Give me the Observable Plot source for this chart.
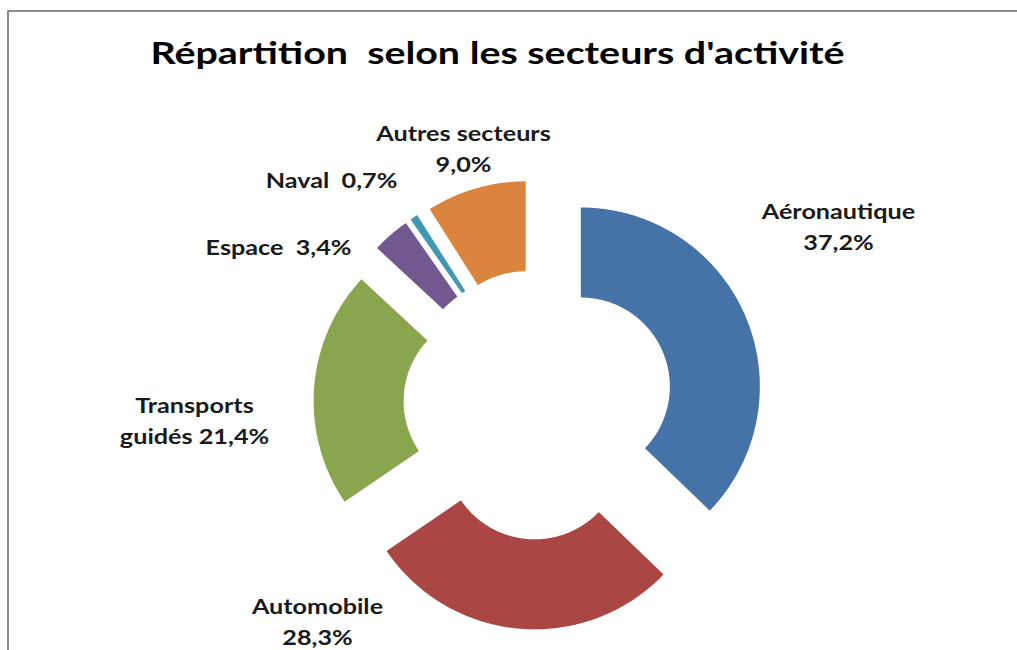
<!DOCTYPE html>
<html>
<head>
<meta charset="utf-8">
<script src="https://cdn.jsdelivr.net/npm/d3@7"></script>
<script src="https://cdn.jsdelivr.net/npm/@observablehq/plot@0.6"></script>
<style>
  html, body { margin: 0; padding: 0; background: #fff; }
  #chart svg { display: block; }
</style>
</head>
<body>
<div id="chart"></div>
<script>
// ---- data ----
const sectors = ["Aéronautique", "Automobile", "Transports guidés", "Espace", "Naval", "Autres secteurs"];
const shares = [37.2, 28.3, 21.4, 3.4, 0.7, 9.0];
const labelLines = [
  ["Aéronautique", "37,2%"],
  ["Automobile", "28,3%"],
  ["Transports", "guidés 21,4%"],
  ["Espace  3,4%"],
  ["Naval  0,7%"],
  ["Autres secteurs", "9,0%"]
];
const colors = ["#4572A7", "#AA4643", "#89A54E", "#71588F", "#4198AF", "#DB843D"];
const titleText = "Répartition  selon les secteurs d'activité";

// ---- layout ----
const W = 1017, H = 650;
const CX = 538, CY = 404, R_OUT = 179, R_IN = 89, EXPLODE = 46;
const labelAnchor = [[838, 212], [317, 607], [194, 406], [278, 248], [331, 181], [463, 134]];
const LINE_H = 31;
const LABEL_STRETCH = 1.2, TITLE_STRETCH = 1.27;

// ---- build slice polygons from the values ----
const total = d3.sum(shares);
const polys = [];
let acc = 0;
shares.forEach((v, i) => {
  const a0 = acc / total * 2 * Math.PI;
  acc += v;
  const a1 = acc / total * 2 * Math.PI;
  const mid = (a0 + a1) / 2;
  const ox = CX + EXPLODE * Math.sin(mid);
  const oy = CY - EXPLODE * Math.cos(mid);
  const n = Math.max(4, Math.ceil((a1 - a0) / (Math.PI / 360)));
  for (let k = 0; k <= n; k++) {
    const a = a0 + (a1 - a0) * k / n;
    polys.push({key: sectors[i], x: ox + R_OUT * Math.sin(a), y: oy - R_OUT * Math.cos(a)});
  }
  for (let k = n; k >= 0; k--) {
    const a = a0 + (a1 - a0) * k / n;
    polys.push({key: sectors[i], x: ox + R_IN * Math.sin(a), y: oy - R_IN * Math.cos(a)});
  }
});

const labels = [];
labelLines.forEach((lines, i) => {
  lines.forEach((t, j) => labels.push({text: t, x: labelAnchor[i][0], y: labelAnchor[i][1] + j * LINE_H}));
});

const FONT = "Lato, 'Open Sans', sans-serif";

const chart = Plot.plot({
  width: W,
  height: H,
  margin: 0,
  x: {domain: [0, W], range: [0, W], axis: null},
  y: {domain: [0, H], range: [0, H], axis: null},
  color: {domain: sectors, range: colors},
  style: {fontFamily: FONT, background: "#fff"},
  marks: [
    // chart area border (top and left visible)
    Plot.ruleY([10.5], {x1: 7.5, x2: W, stroke: "#8a8a8a", strokeWidth: 2}),
    Plot.ruleX([7.5], {y1: 10.5, y2: H, stroke: "#8a8a8a", strokeWidth: 2}),
    Plot.line(polys, {x: "x", y: "y", z: "key", fill: "key", stroke: "none", curve: "linear"}),
    Plot.text(labels, {x: "x", y: "y", text: "text", fontSize: 21, fontWeight: "bold", fill: "#1a1a1a", textAnchor: "middle", lineAnchor: "middle"}),
    Plot.text([titleText], {x: [497], y: [54], text: d => d, fontSize: 31, fontWeight: "bold", fill: "#000", textAnchor: "middle", lineAnchor: "middle"})
  ]
});
document.getElementById("chart").appendChild(chart);

// widen glyphs horizontally to mimic the original (narrow-bodied, wide-set) typeface
const textGroups = chart.querySelectorAll('g[aria-label="text"]');
textGroups.forEach((g, gi) => {
  const f = gi === textGroups.length - 1 ? TITLE_STRETCH : LABEL_STRETCH;
  g.querySelectorAll("text").forEach(t => {
    const w = t.getComputedTextLength();
    t.setAttribute("textLength", (w * f).toFixed(1));
    t.setAttribute("lengthAdjust", "spacingAndGlyphs");
  });
});
</script>
</body>
</html>
